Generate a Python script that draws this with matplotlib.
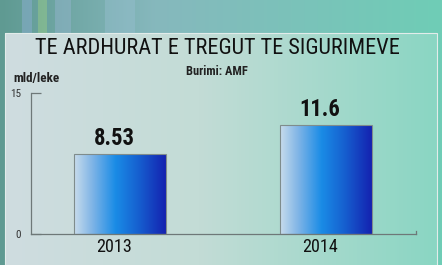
import numpy as np
import matplotlib
matplotlib.use('Agg')
import matplotlib.pyplot as plt
from matplotlib.colors import LinearSegmentedColormap

# data
years = ['2013', '2014']
values = [8.53, 11.6]
value_labels = ['8.53', '11.6']
title = 'TE ARDHURAT E TREGUT TE SIGURIMEVE'
source = 'Burimi: AMF'
unit = 'mld/leke'

# narrow fonts first, whichever is installed gets used
narrow = ['Roboto Condensed', 'Open Sans Condensed', 'Liberation Sans Narrow',
          'Liberation Sans', 'DejaVu Sans']

fig = plt.figure(figsize=(4.42, 2.65), dpi=100)

# background (tv screen look)
bg = fig.add_axes([0, 0, 1, 1])
bg.set_xlim(0, 442)
bg.set_ylim(265, 0)
bg.axis('off')
bg_cmap = LinearSegmentedColormap.from_list(
    'bg', [(0.0, '#5f9a92'), (0.35, '#86b8bd'), (1.0, '#6fcdb6')])
grad = np.linspace(0, 1, 256).reshape(1, -1)
bg.imshow(grad, cmap=bg_cmap, extent=[0, 442, 265, 0], aspect='auto')
# some blurry streaks at the top left
for x0, w, c, a in [(22, 10, '#8fb0d8', 0.45), (38, 9, '#9ccf86', 0.45),
                    (55, 16, '#9bb8d6', 0.4), (105, 30, '#9fc4d8', 0.35)]:
    bg.add_patch(plt.Rectangle((x0, 0), w, 34, color=c, alpha=a, lw=0))

panel_cmap = LinearSegmentedColormap.from_list(
    'panel', [(0.0, '#cfdde0'), (0.45, '#c3dcd6'), (1.0, '#8ad6c3')])
bg.imshow(grad, cmap=panel_cmap, extent=[5, 437, 265, 33], aspect='auto')
bg.add_patch(plt.Rectangle((5, 33), 432, 240, fill=False, ec='#e2ecea', lw=0.8))

# chart
ax = fig.add_axes([31 / 442, 1 - 234 / 265, 385 / 442, 141 / 265])
ax.patch.set_alpha(0)
x = np.arange(len(years))
bars = ax.bar(x, values, width=0.447, facecolor='none', edgecolor='#7f8c8c', lw=0.8, zorder=3)

bar_cmap = LinearSegmentedColormap.from_list(
    'bar', [(0.0, '#c8dcec'), (0.2, '#7fb4e6'), (0.45, '#1a8ce6'),
            (0.7, '#1660d0'), (1.0, '#1422b0')])
for b in bars:
    x0, y0 = b.get_x(), b.get_y()
    im = ax.imshow(grad, cmap=bar_cmap, aspect='auto', zorder=2,
                   extent=[x0, x0 + b.get_width(), y0, y0 + b.get_height()])
    im.set_clip_path(b)

val_texts = []
for xi, v, lab in zip(x, values, value_labels):
    t = ax.annotate(lab, (xi, v), xytext=(-4.5, 3), textcoords='offset points',
                    ha='center', va='bottom', fontsize=17, fontweight='bold',
                    family=narrow, color='#111111')
    val_texts.append(t)

ax.set_xlim(-0.435, 1.438)
ax.set_ylim(0, 15)
for s in ['top', 'right']:
    ax.spines[s].set_visible(False)
for s in ['left', 'bottom']:
    ax.spines[s].set_color('#6e7878')
    ax.spines[s].set_linewidth(0.9)
ax.set_yticks([0, 15])
ax.set_yticklabels(['0', '15'], fontsize=8, color='#333333', family=narrow)
ax.tick_params(axis='y', direction='in', length=7, width=0.9, color='#6e7878', pad=7)
ax.set_xticks(x - 0.03)
ax.set_xticklabels(years, fontsize=14, family=narrow, color='#111111')
ax.tick_params(axis='x', length=0, pad=3)
# small end tick on the right of the base line
ax.plot([1.438, 1.438], [0, 0.35], color='#6e7878', lw=0.9, clip_on=False)

t_title = fig.text(217 / 442, 1 - 49 / 265, title, ha='center', va='center',
                   fontsize=17, family=narrow, color='#111111')
t_src = fig.text(217 / 442, 1 - 72 / 265, source, ha='center', va='center',
                 fontsize=7.5, fontweight='bold', family=narrow, color='#222222')
t_unit = fig.text(13 / 442, 1 - 79 / 265, unit, ha='left', va='center',
                  fontsize=8, fontweight='bold', family=narrow, color='#222222')

# scale font sizes so the texts get the widths seen in the reference
fig.canvas.draw()
r = fig.canvas.get_renderer()


def fit(t, width_px):
    w = t.get_window_extent(r).width
    t.set_fontsize(t.get_fontsize() * width_px / w)


fit(t_title, 366)
fit(t_src, 61)
fit(t_unit, 46)
for t in val_texts:
    fit(t, 41)
for t in ax.get_xticklabels():
    fit(t, 36)

fig.savefig('out.png', dpi=100)
